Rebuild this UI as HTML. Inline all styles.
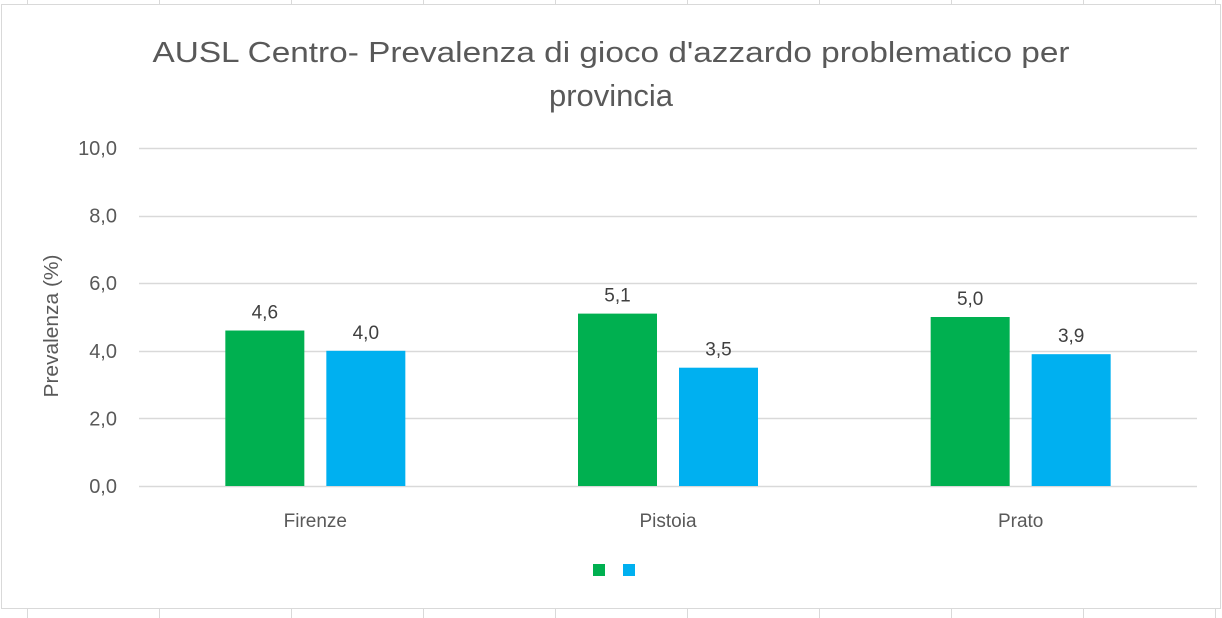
<!DOCTYPE html>
<html><head><meta charset="utf-8"><style>
body{margin:0;width:1222px;height:618px;background:#fff;overflow:hidden;font-family:"Liberation Sans",sans-serif}
svg{display:block}
</style></head><body>
<svg id="c" width="1222" height="618">
<g stroke="#d9d9d9" stroke-width="1">
<line x1="27.5" y1="0" x2="27.5" y2="4"/><line x1="159.5" y1="0" x2="159.5" y2="4"/><line x1="291.5" y1="0" x2="291.5" y2="4"/><line x1="423.5" y1="0" x2="423.5" y2="4"/><line x1="555.5" y1="0" x2="555.5" y2="4"/><line x1="687.5" y1="0" x2="687.5" y2="4"/><line x1="819.5" y1="0" x2="819.5" y2="4"/><line x1="951.5" y1="0" x2="951.5" y2="4"/><line x1="1083.5" y1="0" x2="1083.5" y2="4"/><line x1="1215.5" y1="0" x2="1215.5" y2="4"/>
<line x1="27.5" y1="609" x2="27.5" y2="618"/><line x1="159.5" y1="609" x2="159.5" y2="618"/><line x1="291.5" y1="609" x2="291.5" y2="618"/><line x1="423.5" y1="609" x2="423.5" y2="618"/><line x1="555.5" y1="609" x2="555.5" y2="618"/><line x1="687.5" y1="609" x2="687.5" y2="618"/><line x1="819.5" y1="609" x2="819.5" y2="618"/><line x1="951.5" y1="609" x2="951.5" y2="618"/><line x1="1083.5" y1="609" x2="1083.5" y2="618"/><line x1="1215.5" y1="609" x2="1215.5" y2="618"/>
</g>
<rect x="1.5" y="4.5" width="1219" height="604" fill="#fff" stroke="#d9d9d9"/>
<text x="611" y="62" text-anchor="middle" font-size="29" textLength="917" lengthAdjust="spacingAndGlyphs" fill="#595959">AUSL Centro- Prevalenza di gioco d'azzardo problematico per</text>
<text x="611" y="106" text-anchor="middle" font-size="31" fill="#595959">provincia</text>
<text transform="translate(58,326) rotate(-90)" text-anchor="middle" font-size="20" textLength="143" lengthAdjust="spacingAndGlyphs" fill="#595959">Prevalenza (%)</text>
<g id="grid"></g><g id="bars"></g>
<rect x="593" y="564" width="12" height="12" fill="#00b050"/>
<rect x="623" y="564" width="12" height="12" fill="#00b0f0"/>
</svg>
<script>
const categories=["Firenze","Pistoia","Prato"];
const series1=[4.6,5.1,5.0];
const series2=[4.0,3.5,3.9];
const ticks=[0,2,4,6,8,10];
const NS="http://www.w3.org/2000/svg";
const x0=139,x1=1197,y0=486,y1=148,ymax=10;
const yS=v=>y0-(y0-y1)*v/ymax;
const bw=(x1-x0)/categories.length;
const g=document.getElementById('grid'),b=document.getElementById('bars');
function mk(p,t,a){const e=document.createElementNS(NS,t);for(const k in a)e.setAttribute(k,a[k]);p.appendChild(e);return e;}
ticks.forEach(t=>{
const l=mk(g,'line',{x1:x0,x2:x1,y1:Math.round(yS(t))+0.5,y2:Math.round(yS(t))+0.5,stroke:'#d9d9d9','stroke-width':1.5});


const tx=mk(g,'text',{x:117,y:yS(t)+7,'text-anchor':'end','font-size':20,fill:'#595959'});
tx.textContent=t.toFixed(1).replace('.',',');


});
const barW=79,gap=22;
categories.forEach((c,i)=>{
const cx=x0+bw*(i+0.5);
[[series1,'#00b050',cx-gap/2-barW],[series2,'#00b0f0',cx+gap/2]].forEach(([s,col,bx],j)=>{
const v=s[i];
const r=mk(b,'rect',{x:bx,y:yS(v),width:barW,height:y0-yS(v),fill:col});


const t=mk(b,'text',{x:bx+barW/2,y:yS(v)-12,'text-anchor':'middle','font-size':19,fill:'#404040'});
t.textContent=v.toFixed(1).replace('.',',');


});
const t=mk(b,'text',{x:cx,y:527,'text-anchor':'middle','font-size':19,fill:'#595959'});
t.textContent=c;


});
</script>
</body></html>
